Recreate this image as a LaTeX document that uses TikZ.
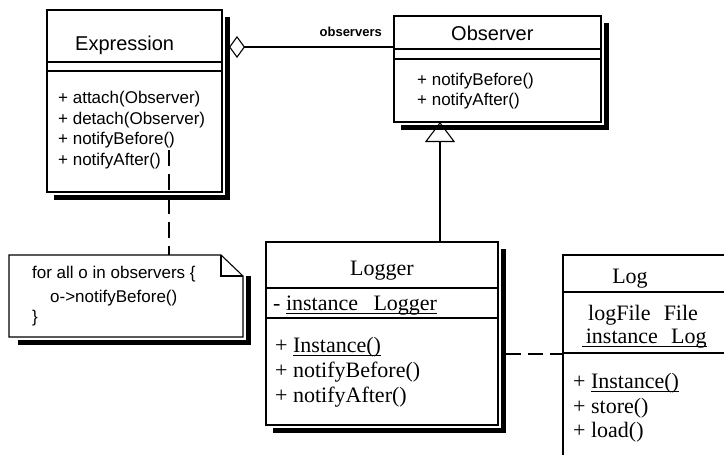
\documentclass[tikz,border=0pt]{standalone}
\usepackage{fontspec}
\setmainfont{Liberation Serif}
\newfontfamily\sansf{Liberation Sans}
\usetikzlibrary{arrows.meta}
\newcommand\myul[1]{\setbox0\hbox{#1}\rlap{\rule[-3.5pt]{\wd0}{0.9pt}}\box0}
\tikzset{
  boxline/.style={line width=1.1pt},
  shadowband/.style={draw=black, line width=5pt, line cap=butt, line join=miter},
  classbox/.style={draw, line width=1.1pt, fill=white, inner sep=0pt, outer sep=0pt, anchor=north west},
  sanstitle/.style={font=\sansf\fontsize{20}{24}\selectfont, anchor=base west, inner sep=0pt},
  sanstext/.style={font=\sansf\fontsize{17}{20}\selectfont, anchor=base west, inner sep=0pt},
  seriftitle/.style={font=\fontsize{22}{26}\selectfont, anchor=base, inner sep=0pt},
  seriftext/.style={font=\fontsize{22}{26}\selectfont, anchor=base west, inner sep=0pt},
  dashline/.style={line width=1.1pt, dash pattern=on 16pt off 8pt},
}
\begin{document}
\begin{tikzpicture}[x=1pt,y=-1pt]
\useasboundingbox (0,0) rectangle (724,455);

% ---------- Expression ----------
\draw[shadowband] (227.5,17) -- (227.5,197.5) -- (54,197.5);
\node[classbox, minimum width=175pt, minimum height=182pt] (expr) at (47,10) {};
\draw[boxline] (47,62) -- (222,62) (47,71) -- (222,71);
\node[sanstitle] (exprT) at (75,50) {Expression};
\node[sanstext] (e1) at (58,103) {+ attach(Observer)};
\node[sanstext] (e2) at (58,124) {+ detach(Observer)};
\node[sanstext] (e3) at (58,144) {+ notifyBefore()};
\node[sanstext] (e4) at (58,165) {+ notifyAfter()};

% ---------- Observer ----------
\draw[shadowband] (606.5,23) -- (606.5,127.5) -- (401,127.5);
\node[classbox, minimum width=207pt, minimum height=106pt] (obs) at (394,16) {};
\draw[boxline] (394,49) -- (601,49) (394,59) -- (601,59);
\node[sanstitle] (obsT) at (451,41) {Observer};
\node[sanstext] (o1) at (417,85) {+ notifyBefore()};
\node[sanstext] (o2) at (417,105) {+ notifyAfter()};

% ---------- Logger ----------
\draw[shadowband] (503.5,249) -- (503.5,430.5) -- (273,430.5);
\node[classbox, minimum width=232pt, minimum height=183pt] (logger) at (266,242) {};
\draw[boxline] (266,288) -- (498,288) (266,318) -- (498,318);
\node[seriftitle] (loggerT) at (382,275) {Logger};
\node[seriftext] (l0) at (273,310) {- \myul{instance\hspace{0.7em}Logger}};
\node[seriftext] (l1) at (275,352) {+ \myul{Instance()}};
\node[seriftext] (l2) at (275,377) {+ notifyBefore()};
\node[seriftext] (l3) at (275,402) {+ notifyAfter()};

% ---------- Log (cut by the page edge) ----------
\node[classbox, minimum width=190pt, minimum height=230pt] (log) at (563,255) {};
\draw[boxline] (563,292) -- (753,292) (563,353) -- (753,353);
\node[seriftitle] (logT) at (630,283) {Log};
\node[seriftext] (g0) at (588,320) {logFile\hspace{0.6em}File};
\node[seriftext] (g1) at (582,343) {\myul{\,instance\hspace{0.6em}Log}};
\node[seriftext] (g2) at (573,388) {+ \myul{Instance()}};
\node[seriftext] (g3) at (573,413) {+ store()};
\node[seriftext] (g4) at (573,437) {+ load()};

% ---------- Note ----------
\draw[shadowband] (248,276) -- (248,342) -- (18,342);
\node[anchor=north west, minimum width=234pt, minimum height=82pt, inner sep=0pt, outer sep=0pt] (note) at (9,255) {};
\draw[boxline, fill=white] (9,255) -- (221,255) -- (243,276) -- (243,337) -- (9,337) -- cycle;
\draw[boxline] (221,255) -- (221,276) -- (243,276);
\node[sanstext] (n1) at (32,278) {for all o in observers \{};
\node[sanstext] (n2) at (50,302) {o->notifyBefore()};
\node[sanstext] (n3) at (32,322) {\}};

% ---------- Connectors ----------
\coordinate (aggstart) at (229,47);
\draw[boxline, {Diamond[open, length=16pt, width=22pt]}-] (aggstart) -- (aggstart -| obs.west);
\node[font=\sansf\bfseries\fontsize{13}{15}\selectfont, anchor=base east, inner sep=0pt] (obsLbl) at (382,37) {observers};

\coordinate (genx) at (440,0);
\draw[boxline, -{Triangle[open, length=20pt, width=30pt]}] (logger.north -| genx) -- (obs.south -| genx);

\coordinate (nb) at (169,150);
\draw[dashline] (nb) -- (nb |- note.north);

\coordinate (dl) at (506,354);
\draw[dashline, dash pattern=on 15pt off 7pt] (dl) -- (dl -| log.west);
\end{tikzpicture}
\end{document}
